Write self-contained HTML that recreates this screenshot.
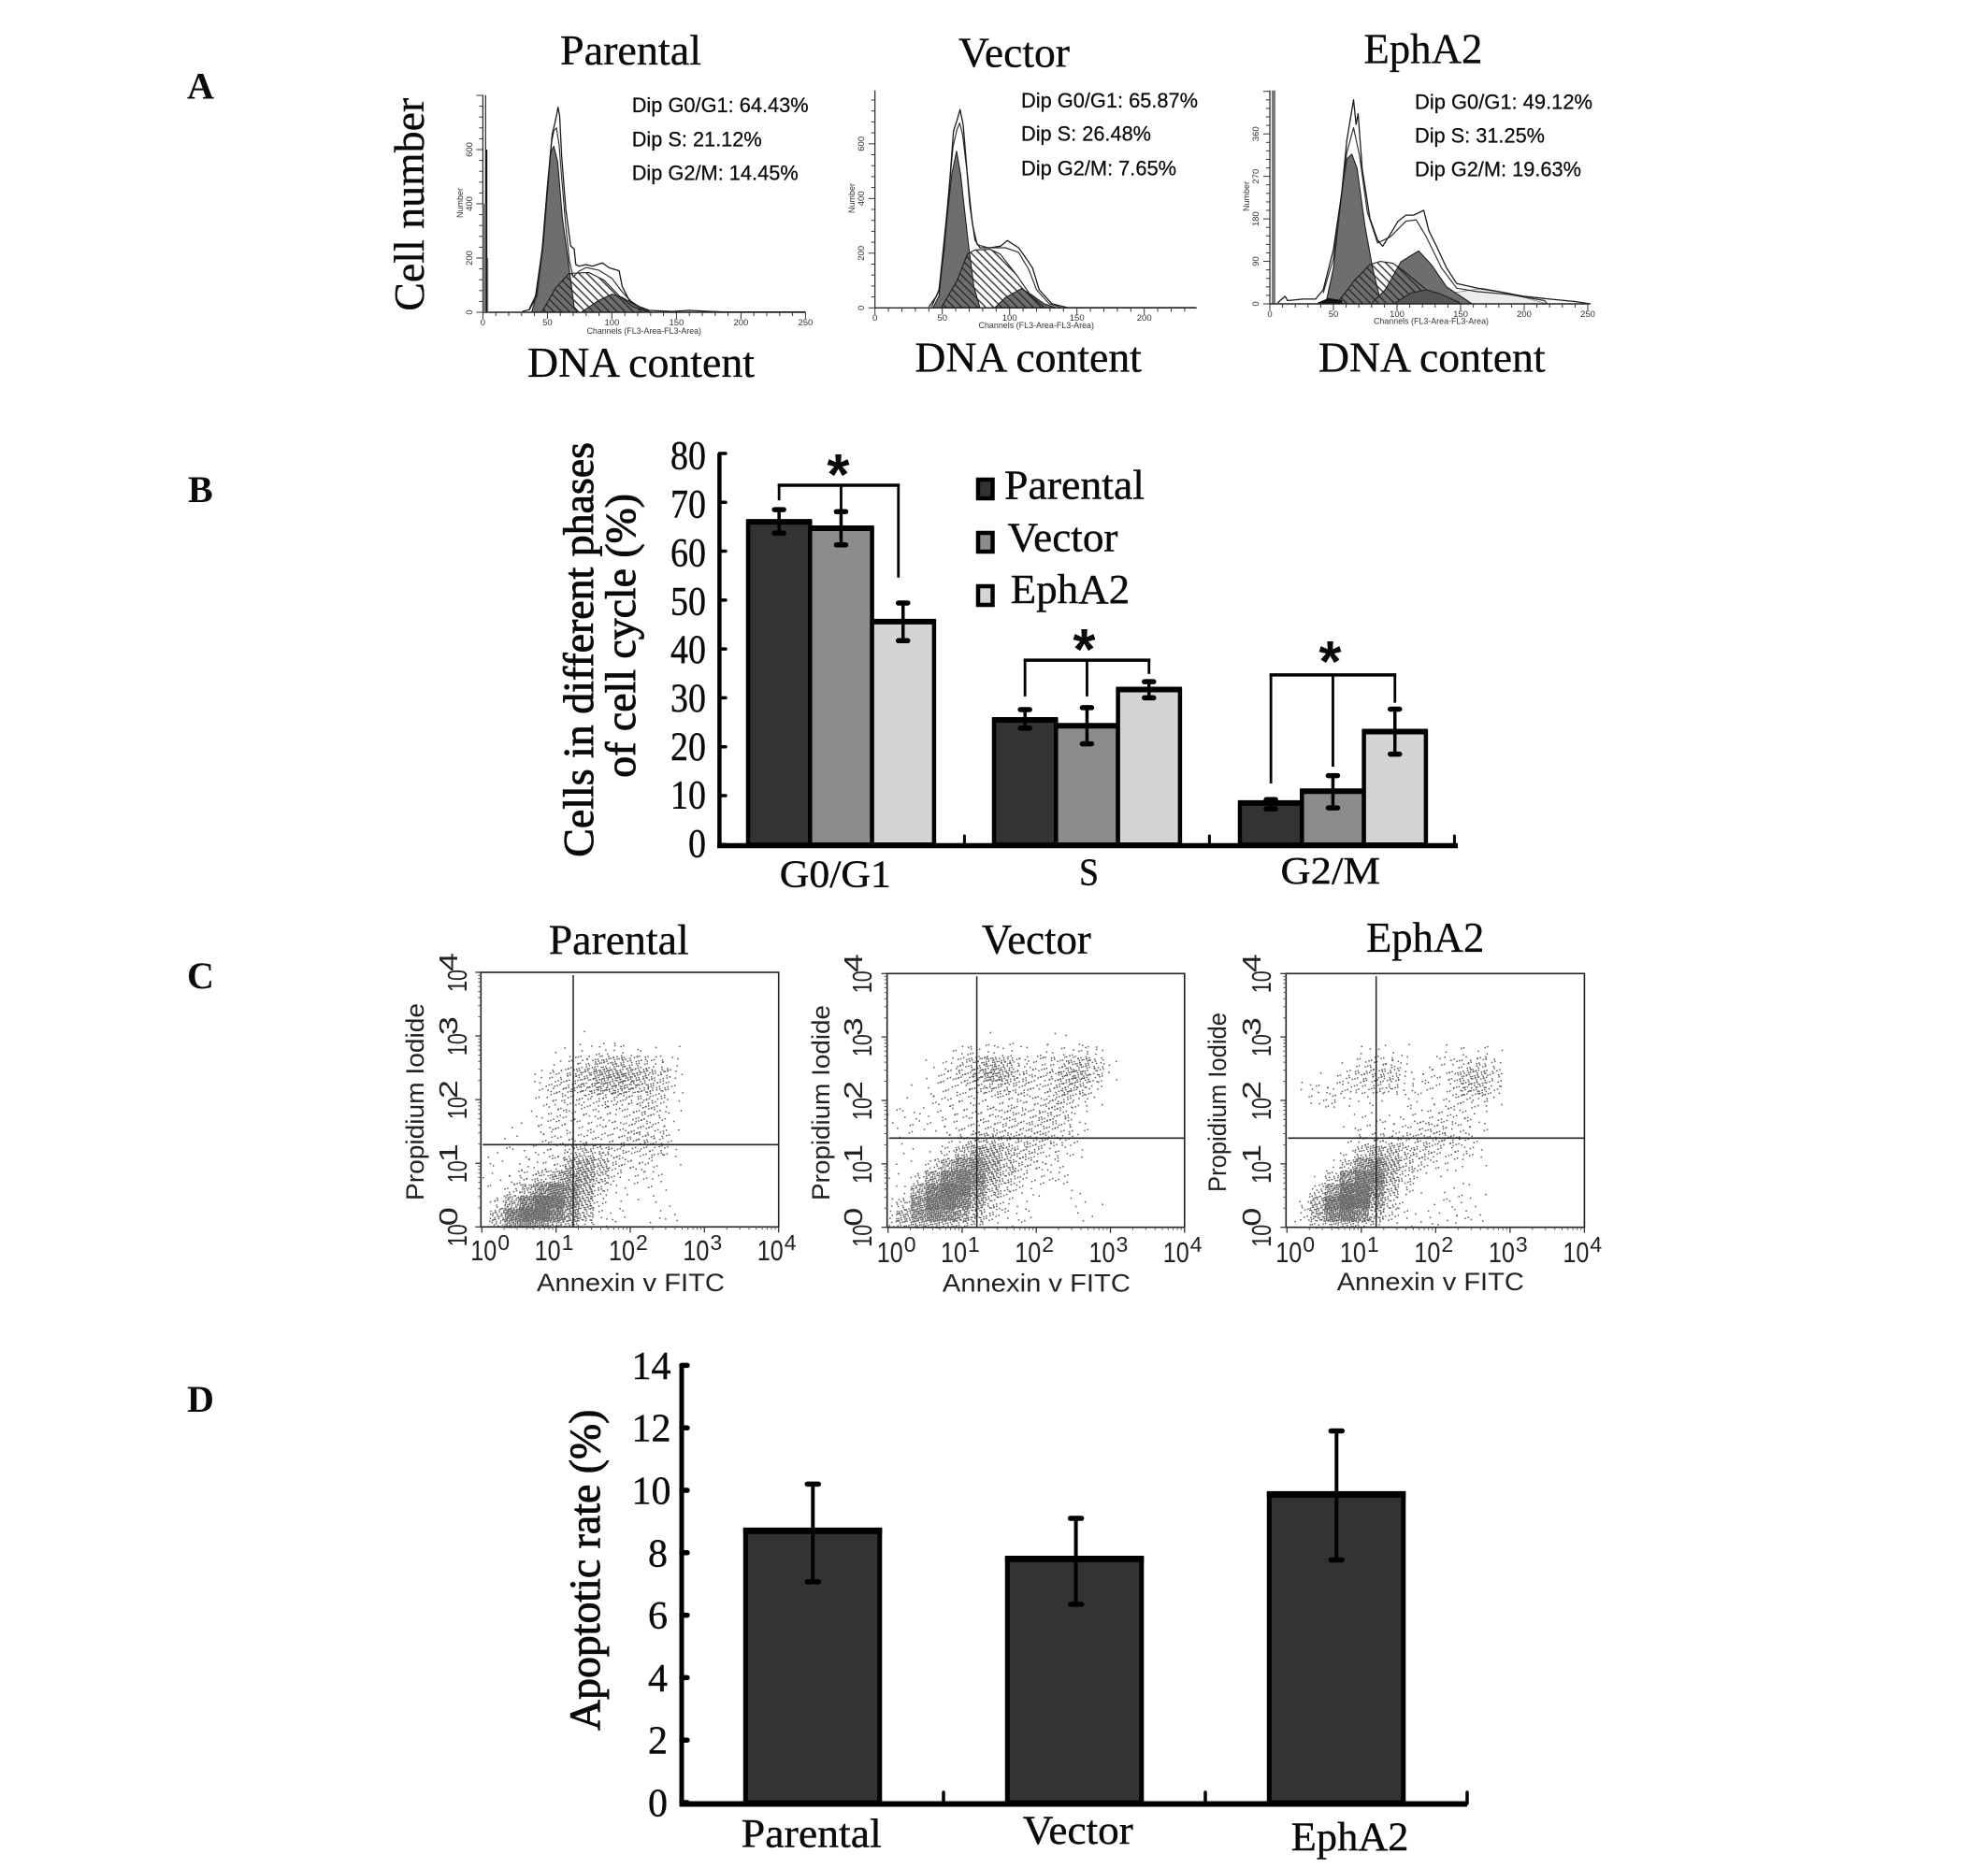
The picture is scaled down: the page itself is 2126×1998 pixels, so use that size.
<!DOCTYPE html>
<html lang="en">
<head>
<meta charset="utf-8">
<title>EphA2 cell cycle and apoptosis figure</title>
<style>
html,body{margin:0;padding:0;background:#fff;}
svg{display:block;}
text{fill:#0a0a0a;}
.serif{font-family:"Liberation Serif",serif;}
.sans{font-family:"Liberation Sans",sans-serif;}
.letter{font-family:"Liberation Serif",serif;font-weight:bold;font-size:40px;}
.title{font-family:"Liberation Serif",serif;font-size:46px;stroke:#0a0a0a;stroke-width:.35px;}
.stat{font-family:"Liberation Sans",sans-serif;font-size:22px;stroke:#0a0a0a;stroke-width:.25px;}
.ax-a{font-family:"Liberation Serif",serif;font-size:45px;stroke:#0a0a0a;stroke-width:.35px;}
.ax-c{font-family:"Liberation Sans",sans-serif;font-size:27px;fill:#222;}
.ax-s{font-family:"Liberation Sans",sans-serif;font-size:9.5px;fill:#333;}
.heavy{stroke:#0a0a0a;stroke-width:.9px;}
.medium{stroke:#0a0a0a;stroke-width:.4px;}
</style>
</head>
<body>
<svg id="figure" xmlns="http://www.w3.org/2000/svg" width="2126" height="1998" viewBox="0 0 2126 1998">
<defs>
<pattern id="s-hatch" width="6" height="6" patternUnits="userSpaceOnUse" patternTransform="rotate(45)">
<line x1="0" y1="3" x2="6" y2="3" stroke="#262626" stroke-width="1.35"/>
</pattern>
</defs>
<rect width="2126" height="1998" fill="#fff"/>

<text class="letter" x="200" y="105.5">A</text>
<text class="letter" x="201" y="537">B</text>
<text class="letter" x="200" y="1057">C</text>
<text class="letter" x="200" y="1510">D</text>

<text class="title" x="599" y="69" textLength="151" lengthAdjust="spacingAndGlyphs">Parental</text>
<text class="title" x="1025" y="71.7" textLength="119" lengthAdjust="spacingAndGlyphs">Vector</text>
<text class="title" x="1458.4" y="67.7" textLength="127" lengthAdjust="spacingAndGlyphs">EphA2</text>
<text class="ax-a" transform="translate(453,332.7) rotate(-90)" textLength="228" lengthAdjust="spacingAndGlyphs">Cell number</text>
<text class="ax-a" x="564" y="403" textLength="243" lengthAdjust="spacingAndGlyphs">DNA content</text>
<text class="ax-a" x="978.4" y="397.7" textLength="242.5" lengthAdjust="spacingAndGlyphs">DNA content</text>
<text class="ax-a" x="1410" y="397.7" textLength="242.6" lengthAdjust="spacingAndGlyphs">DNA content</text>

<text class="stat" x="675.7" y="120" textLength="189" lengthAdjust="spacingAndGlyphs">Dip G0/G1: 64.43%</text>
<text class="stat" x="675.7" y="156.7" textLength="139" lengthAdjust="spacingAndGlyphs">Dip S: 21.12%</text>
<text class="stat" x="675.7" y="192.7" textLength="178" lengthAdjust="spacingAndGlyphs">Dip G2/M: 14.45%</text>
<text class="stat" x="1092" y="115" textLength="189" lengthAdjust="spacingAndGlyphs">Dip G0/G1: 65.87%</text>
<text class="stat" x="1092" y="150.7" textLength="139" lengthAdjust="spacingAndGlyphs">Dip S: 26.48%</text>
<text class="stat" x="1092" y="187.3" textLength="166" lengthAdjust="spacingAndGlyphs">Dip G2/M: 7.65%</text>
<text class="stat" x="1513" y="116.7" textLength="190" lengthAdjust="spacingAndGlyphs">Dip G0/G1: 49.12%</text>
<text class="stat" x="1513" y="152.3" textLength="139" lengthAdjust="spacingAndGlyphs">Dip S: 31.25%</text>
<text class="stat" x="1513" y="188.3" textLength="178" lengthAdjust="spacingAndGlyphs">Dip G2/M: 19.63%</text>

<text class="ax-s" x="627.5" y="357" textLength="122.5" lengthAdjust="spacingAndGlyphs">Channels (FL3-Area-FL3-Area)</text>
<text class="ax-s" x="1046.5" y="351" textLength="123.5" lengthAdjust="spacingAndGlyphs">Channels (FL3-Area-FL3-Area)</text>
<text class="ax-s" x="1469" y="346.7" textLength="123" lengthAdjust="spacingAndGlyphs">Channels (FL3-Area-FL3-Area)</text>
<text class="ax-s" transform="translate(495,233) rotate(-90)" textLength="32" lengthAdjust="spacingAndGlyphs">Number</text>
<text class="ax-s" transform="translate(914,228) rotate(-90)" textLength="32" lengthAdjust="spacingAndGlyphs">Number</text>
<text class="ax-s" transform="translate(1336,226) rotate(-90)" textLength="32" lengthAdjust="spacingAndGlyphs">Number</text>

<text class="serif heavy" font-size="46" transform="translate(634,916.7) rotate(-90)" textLength="443.7" lengthAdjust="spacingAndGlyphs">Cells in different phases</text>
<text class="serif heavy" font-size="46" transform="translate(679,831.7) rotate(-90)" textLength="303.7" lengthAdjust="spacingAndGlyphs">of cell cycle (%)</text>

<text class="title" x="586.7" y="1020.7" textLength="150" lengthAdjust="spacingAndGlyphs">Parental</text>
<text class="title" x="1049.8" y="1020" textLength="117" lengthAdjust="spacingAndGlyphs">Vector</text>
<text class="title" x="1461" y="1018" textLength="126.3" lengthAdjust="spacingAndGlyphs">EphA2</text>
<text class="ax-c" x="574" y="1381" textLength="201" lengthAdjust="spacingAndGlyphs">Annexin v FITC</text>
<text class="ax-c" x="1007.9" y="1381.7" textLength="201" lengthAdjust="spacingAndGlyphs">Annexin v FITC</text>
<text class="ax-c" x="1429.8" y="1380" textLength="200" lengthAdjust="spacingAndGlyphs">Annexin v FITC</text>
<text class="ax-c" transform="translate(453,1284) rotate(-90)" textLength="211" lengthAdjust="spacingAndGlyphs">Propidium Iodide</text>
<text class="ax-c" transform="translate(887,1284) rotate(-90)" textLength="209" lengthAdjust="spacingAndGlyphs">Propidium Iodide</text>
<text class="ax-c" transform="translate(1311,1275) rotate(-90)" textLength="192" lengthAdjust="spacingAndGlyphs">Propidium Iodide</text>

<text class="serif heavy" font-size="47" transform="translate(641,1851) rotate(-90)" textLength="343.4" lengthAdjust="spacingAndGlyphs">Apoptotic rate (%)</text>
</svg>
<script>
/* ---------- Panel A: DNA histograms, [channel, count] ---------- */
const parentalRawTrace=[[30.5,3],[35.7,9],[40.9,61],[46,233],[50,463],[53.8,659],[55.6,693],[57.2,728],[58.2,756],[59.5,725],[61,578],[64.2,383],[68,245],[70.7,233],[72,176],[74.5,170],[79.7,176],[85,170],[92.6,182],[97.8,164],[105.6,153],[108,95],[113.4,44],[121,21],[129,7],[147,3],[160,7],[186,1],[250,1]];
const parentalFitTrace=[[36,8],[42,60],[47,260],[50,440],[53,620],[55,670],[57,680],[59,620],[61,500],[64,330],[67,190],[70,130],[74,150],[80,165],[90,155],[100,125],[108,75],[115,40],[122,15],[130,0]];
const parentalG1Peak=[[38,3],[41,50],[46,233],[50,463],[52.5,590],[55,612],[58,555],[61.6,348],[66.8,164],[70.7,20],[74.5,0]];
const parentalSPhase=[[46,3],[56.4,90],[66.8,143],[82,147],[94,118],[105.6,61],[116,21],[129,0]];
const parentalG2Peak=[[77,3],[90,44],[100,67],[108,55],[116,32],[129,3]];

const vectorRawTrace=[[40,3],[45.7,43],[47.6,66],[51.4,214],[55.2,442],[58.3,647],[61,687],[63.2,725],[65.5,670],[67.4,556],[70.5,374],[74.3,248],[78,220],[85.7,220],[93.3,226],[98.3,246],[106.7,220],[112.4,180],[117,146],[122,66],[131.4,15],[143,1],[238,1]];
const vectorFitTrace=[[42,3],[47.6,66],[53,328],[58,590],[61,653],[62.9,676],[65,636],[68.6,488],[72.4,305],[76,231],[84,220],[97,220],[106.7,203],[114.3,140],[120,66],[129.5,15],[139,0]];
const vectorG1Peak=[[43,0],[47.6,43],[53,305],[57,488],[60.6,573],[63.6,488],[66.7,351],[69.3,237],[73.5,77],[78,0]];
const vectorSPhase=[[49.5,3],[61,100],[68.6,197],[74.3,212],[85.7,214],[93,197],[104.8,123],[116,43],[125.7,3]];
const vectorG2Peak=[[89.5,3],[97,38],[108.6,70],[116,49],[125.7,15],[135,0]];

const epha2RawTrace=[[6,2],[12,16],[14,7],[26,10],[36,10],[42,30],[50,115],[56.5,234],[60.5,346],[65.8,432],[67.8,380],[69.4,403],[72.6,287],[78.7,181],[84.7,135],[88.7,122],[94.8,148],[100.8,175],[107,188],[113,188],[121,198],[125,155],[131,122],[139,76],[147,43],[163.4,33],[179.5,26],[199.7,16],[220,10],[240,5],[252,0]];
const epha2FitTrace=[[42,23],[50,96],[56.5,234],[60.5,320],[65.8,373],[70.6,313],[76.6,195],[84.7,129],[94.8,142],[107,175],[115,178],[123,142],[135,76],[147,33],[163,26],[187.6,20],[216,7],[218,0]];
const epha2G1Peak=[[44,0],[50,76],[56.5,234],[60.5,307],[64.5,317],[68.6,287],[74.6,168],[80.7,76],[86.7,10],[90.8,0]];
const epha2SPhase=[[54.5,7],[66.6,50],[78.7,83],[86.7,90],[96.8,86],[107,66],[123,30],[135,7]];
const epha2G2Peak=[[80.7,3],[90.8,30],[103,89],[117,112],[127,83],[139,36],[159,0]];
const epha2Aggregate=[[143,23],[167,33],[187.6,23],[218,0],[143,0]];
const epha2Tetraploid=[[99,3],[111,23],[123,30],[135,20],[149,3]];
const epha2Debris=[[38,2],[46,11],[56.5,7]];

const parentalChannelTicks=[0,50,100,150,200,250];
const vectorChannelTicks=[0,50,100,150,200];
const epha2ChannelTicks=[0,50,100,150,200,250];
const parentalCountTicks=[0,200,400,600];
const vectorCountTicks=[0,200,400,600];
const epha2CountTicks=[0,90,180,270,360];

/* ---------- Panel B: cell cycle bars ---------- */
const cycleCategories=['G0/G1','S','G2/M'];
const cycleSeries=['Parental','Vector','EphA2'];
const cycleParental=[66,25.5,8.5];
const cycleVector=[64.7,24.3,10.9];
const cycleEpha2=[45.6,31.7,23.1];
const cycleParentalHigh=[68.5,27.6,9.2];
const cycleParentalLow=[63.7,23.8,7.3];
const cycleVectorHigh=[68.1,28,14.1];
const cycleVectorLow=[61.3,20.6,7.5];
const cycleEpha2High=[49.4,33.3,27.7];
const cycleEpha2Low=[41.7,30,18.5];
const cycleTicks=[0,10,20,30,40,50,60,70,80];
const bracketTop=[73.5,37.7,34.7];
const bracketLegParental=[70.4,30.3,12.5];
const bracketLegVector=[68.5,30.3,15.9];
const bracketLegEpha2=[54.6,34.9,29];
const starLevel=[77.1,41.4,38.9];

/* ---------- Panel C: dot counts per 0.2-decade cell, rows bottom-up, columns left-right ---------- */
const scatterExponents=[0,1,2,3,4];
const parentalDensity=[
[3,50,120,110,70,30,20,4,1,1,0,2,2],
[2,15,70,120,130,60,35,5,1,1,0,2,1],
[1,4,14,45,110,70,45,10,1,0,0,1],
[1,2,5,10,30,50,40,15,3,2,1,3],
[1,1,3,4,5,10,45,30,10,5,5,3],
[1,2,2,1,1,6,30,25,10,6,5,4,1],
[0,0,2,2,5,4,4,5,5,8,10,15,4],
[0,0,1,1,3,4,5,4,6,5,8,8,3],
[0,0,0,1,6,8,4,4,5,5,8,10,2],
[0,0,0,0,3,5,3,4,4,3,8,8,2],
[0,0,0,0,8,8,8,15,12,12,12,12,3],
[0,0,0,0,6,14,14,25,35,20,30,15,8],
[0,0,0,0,0,5,8,15,30,25,15,15,5],
[0,0,0,0,0,1,2,3,8,5,1,2,1],
[0,0,0,0,0,0,0,1]];
const vectorDensity=[
[20,30,40,35,25,15,8,3,2,1],
[5,25,80,90,60,35,12,5,3,1,0,0,1,2],
[0,8,70,125,110,60,18,5,3,0,0,0,1,1],
[1,2,20,70,120,80,30,15,6,3,2,2],
[0,0,5,20,65,90,40,18,10,6,5,3],
[0,1,1,4,15,40,45,25,10,8,4,3],
[0,0,0,0,4,12,25,15,14,12,10,4,3],
[1,2,0,2,3,5,8,8,8,10,8,10,5],
[2,4,1,3,3,6,6,8,8,10,10,10,3],
[0,2,2,3,3,4,4,6,8,6,8,10,4],
[0,0,1,3,4,5,5,4,5,4,6,15,12,3],
[0,0,0,3,6,10,20,20,12,8,6,15,22,10],
[0,0,0,3,8,14,25,40,15,6,8,12,25,25,4],
[0,0,0,0,4,8,8,6,3,2,2,4,8,8,2],
[0,0,0,0,0,0,0,2,0,0,2,0,1,1]];
const epha2Density=[
[1,3,25,35,30,10,5,3,1,3,3,3,2],
[0,10,50,130,130,40,12,3,0,0,2,2,2],
[0,2,25,90,130,70,20,4,0,0,1,3,2],
[0,0,6,30,110,100,30,8,2],
[0,0,0,5,35,90,45,12,6,3],
[0,0,0,1,6,35,40,20,10,5,4,5,1],
[0,0,0,0,2,10,10,8,14,10,6,10,3],
[0,0,0,0,3,5,5,3,6,10,10,6,4],
[0,0,0,0,0,1,1,1,3,6,6,4,3],
[0,0,0,1,0,2,1,0,1,2,4,4,4],
[0,3,8,5,2,2,2,1,2,1,1,5,12,4],
[0,0,1,3,10,14,18,8,3,3,6,10,28,16],
[0,0,0,0,5,8,12,6,1,2,3,8,15,12],
[0,0,0,0,0,3,5,2,0,0,1,3,5,4]];

/* ---------- Panel D: apoptosis bars ---------- */
const apoptosisCategories=['Parental','Vector','EphA2'];
const apoptosisValues=[8.7,7.8,9.87];
const apoptosisHigh=[10.2,9.1,11.9];
const apoptosisLow=[7.07,6.35,7.77];
const apoptosisTicks=[0,2,4,6,8,10,12,14];

const NS='http://www.w3.org/2000/svg';
const root=document.getElementById('figure');
function make(tag,attrs,parent){
  const el=document.createElementNS(NS,tag);
  for(const k in attrs){el.setAttribute(k,attrs[k]);}
  (parent||root).appendChild(el);
  return el;
}
function group(name){
  const el=make('g',{});
  
  
  return el;
}
function seg(p,x1,y1,x2,y2,w,c,name,cap){
  const el=make('line',{x1:x1,y1:y1,x2:x2,y2:y2,stroke:c,'stroke-width':w,'stroke-linecap':cap||'butt'},p);
  
  
  return el;
}
function label(p,str,attrs,name){
  const el=make('text',attrs,p);
  el.textContent=str;
  
  
  return el;
}
function shape(p,d,fill,stroke,w,name){
  const el=make('path',{d:d,fill:fill,stroke:stroke,'stroke-width':w,'stroke-linejoin':'round'},p);
  
  
  return el;
}

/* histogram */
function drawHistogram(o){
  const g=group('histogram-'+o.id);
  const X=c=>o.x0+c*o.xs;
  const Y=n=>o.y0-n*o.ys;
  const open=t=>t.map((p,i)=>(i?'L':'M')+X(p[0]).toFixed(1)+' '+Y(p[1]).toFixed(1)).join('');
  const closed=t=>open(t)+'L'+X(t[t.length-1][0]).toFixed(1)+' '+o.y0+'L'+X(t[0][0]).toFixed(1)+' '+o.y0+'Z';
  if(o.aggregate){shape(g,open(o.aggregate)+'Z','#ececec','#888',0.8,'aggregate-region');}
  shape(g,closed(o.g1),'#6e6e6e','#1e1e1e',1.1,'g0-g1-peak');
  shape(g,closed(o.g2),'#6e6e6e','#1e1e1e',1.1,'g2-m-peak');
  shape(g,closed(o.s),'url(#s-hatch)','#1e1e1e',1.1,'s-phase-region');
  if(o.tetra){shape(g,closed(o.tetra),'#555','#1e1e1e',1,'tetraploid-peak');}
  if(o.debris){shape(g,closed(o.debris),'#111','#111',1,'debris-peak');}
  shape(g,open(o.fit),'none','#333',1.2,'fit-trace');
  shape(g,open(o.raw),'none','#1a1a1a',1.3,'raw-trace');
  seg(g,o.x0,o.y0,X(o.xEnd),o.y0,1.4,'#222','x-axis');
  seg(g,o.x0,o.y0,o.x0,o.top,1.2,'#222','y-axis');
  for(let c=0;c<=o.xEnd;c+=10){
    seg(g,X(c),o.y0,X(c),o.y0+(c%50===0?7:4),1,'#333','x-tick');
  }
  o.xTicks.forEach(t=>{
    label(g,t,{class:'ax-s','text-anchor':'middle',x:X(t),y:o.tickY,'font-size':8},'x-tick-label');
  });
  const minor=o.yTicks[1]/5;
  for(let n=0;Y(n)>=o.top;n+=minor){
    seg(g,o.x0,Y(n),o.x0-(Math.round(n/minor)%5===0?7:4),Y(n),1,'#333','y-tick');
  }
  o.yTicks.forEach(t=>{
    label(g,t,{class:'ax-s','text-anchor':'middle',transform:'translate('+o.labelX+','+Y(t)+') rotate(-90)'},'y-tick-label');
  });
  return g;
}
const gp=drawHistogram({id:'parental',x0:516.4,xs:1.38,y0:334,ys:0.29,top:101.7,xEnd:250,tickY:348,labelX:505,
  raw:parentalRawTrace,fit:parentalFitTrace,g1:parentalG1Peak,s:parentalSPhase,g2:parentalG2Peak,
  xTicks:parentalChannelTicks,yTicks:parentalCountTicks});
seg(gp,519.3,101.7,519.3,334,1.2,'#222','channel-zero-spike');
shape(gp,'M516.4 218H519.6V334H516.4Z','#777','none',0,'channel-zero-bar');
seg(gp,520.4,160,520.4,334,1.6,'#111','channel-one-spike');
seg(gp,521.6,276,521.6,334,1.2,'#666','channel-two-spike');
drawHistogram({id:'vector',x0:935.7,xs:1.44,y0:329.3,ys:0.2925,top:96.7,xEnd:239,tickY:343,labelX:924,
  raw:vectorRawTrace,fit:vectorFitTrace,g1:vectorG1Peak,s:vectorSPhase,g2:vectorG2Peak,
  xTicks:vectorChannelTicks,yTicks:vectorCountTicks});
const ge=drawHistogram({id:'epha2',x0:1358,xs:1.36,y0:325,ys:0.505,top:96.7,xEnd:252,tickY:339,labelX:1346,
  raw:epha2RawTrace,fit:epha2FitTrace,g1:epha2G1Peak,s:epha2SPhase,g2:epha2G2Peak,
  aggregate:epha2Aggregate,tetra:epha2Tetraploid,debris:epha2Debris,
  xTicks:epha2ChannelTicks,yTicks:epha2CountTicks});
seg(ge,1361,96.7,1361,325,1.2,'#222','channel-zero-spike');
seg(ge,1363,96.7,1363,325,1.2,'#222','channel-one-spike');

/* panel B */
const cycleY=v=>903.3-v*5.229;
const cycleTickLabelY=v=>916.5-v*5.185;
const cycleX=(c,s)=>800+263*c+66.3*s;
const cycleFill=['#333333','#8c8c8c','#d4d4d4'];
const cycleMeans=[cycleParental,cycleVector,cycleEpha2];
const cycleHighs=[cycleParentalHigh,cycleVectorHigh,cycleEpha2High];
const cycleLows=[cycleParentalLow,cycleVectorLow,cycleEpha2Low];
const gb=group('cycle-bar-chart');
cycleCategories.forEach((cat,c)=>{
  cycleSeries.forEach((ser,s)=>{
    const v=cycleMeans[s][c];
    const x=cycleX(c,s);
    const bar=make('rect',{x:x,y:cycleY(v),width:66.3,height:cycleY(0)-cycleY(v),fill:cycleFill[s],stroke:'#000','stroke-width':4.5},gb);
    
    
    seg(gb,x-2,cycleY(v),x+68.3,cycleY(v),6,'#000','bar-top-edge');
  });
});
cycleCategories.forEach((cat,c)=>{
  cycleSeries.forEach((ser,s)=>{
    const cx=cycleX(c,s)+33.15;
    const hi=cycleY(cycleHighs[s][c]);
    const lo=cycleY(cycleLows[s][c]);
    seg(gb,cx,hi,cx,lo,3.5,'#000','error-bar-stem');
    seg(gb,cx-5,hi,cx+5,hi,5.5,'#000','error-bar-cap-high','round');
    seg(gb,cx-5,lo,cx+5,lo,5.5,'#000','error-bar-cap-low','round');
  });
});
seg(gb,769.4,485,769.4,907,4.5,'#000','cycle-y-axis');
seg(gb,767,904.5,1559,904.5,5.5,'#000','cycle-x-axis');
cycleTicks.forEach(t=>{
  seg(gb,769.4,cycleY(t),776,cycleY(t),3.5,'#000','cycle-y-tick','round');
  const two=String(t).length>1;
  label(gb,t,{class:'serif medium','font-size':43,'text-anchor':'end',x:755,y:cycleTickLabelY(t),textLength:two?38:19,lengthAdjust:'spacingAndGlyphs'},'cycle-y-tick-label');
});
cycleCategories.forEach((cat,c)=>{
  const tx=769.4+262*(c+1);
  seg(gb,tx,904,tx,894,3,'#000','cycle-category-tick','round');
});
const catLabelX=[833.8,1154,1369.5];
const catLabelW=[119,21,106.5];
const catLabelY=[948.3,946.7,945];
cycleCategories.forEach((cat,c)=>{
  label(gb,cat,{class:'serif medium','font-size':41,x:catLabelX[c],y:catLabelY[c],textLength:catLabelW[c],lengthAdjust:'spacingAndGlyphs'},'cycle-category-label');
});
cycleCategories.forEach((cat,c)=>{
  const top=cycleY(bracketTop[c]);
  const a=cycleX(c,0)+33.15, b=cycleX(c,1)+33.15, d=cycleX(c,2)+33.15-(c===0?5:0);
  seg(gb,a-1.5,top,d+1.5,top,3.5,'#000','significance-bracket-top');
  seg(gb,a,top,a,cycleY(bracketLegParental[c]),2.8,'#000','significance-bracket-leg');
  seg(gb,b,top,b,cycleY(bracketLegVector[c]),2.8,'#000','significance-bracket-leg');
  seg(gb,d,top,d,cycleY(bracketLegEpha2[c]),2.8,'#000','significance-bracket-leg');
  label(gb,'*',{class:'sans','font-size':62,'font-weight':'bold','text-anchor':'middle',x:b-3,y:cycleY(starLevel[c])+29},'significance-star');
});
const legendY=[511,568,625];
const legendX=[1074,1077.5,1080.6];
const legendW=[150,118,127.5];
const legendB=[533.3,589.3,645];
cycleSeries.forEach((ser,s)=>{
  const sw=make('rect',{x:1046,y:legendY[s]+2,width:15.5,height:20,fill:cycleFill[s],stroke:'#000','stroke-width':4.5},gb);
  
  
  label(gb,ser,{class:'serif medium','font-size':44,x:legendX[s],y:legendB[s],textLength:legendW[s],lengthAdjust:'spacingAndGlyphs'},'legend-entry-'+ser);
});

/* panel C: each cell's dots are stippled with a fixed low-discrepancy lattice, spread half a cell past its edges */
function drawScatter(o){
  const g=group('scatter-'+o.id);
  const X=d=>o.left+1+d*(o.right-o.left-1)/4;
  const Y=d=>o.bottom-d*(o.bottom-o.top)/4;
  const cw=(X(1)-X(0))/5, ch=(Y(0)-Y(1))/5;
  o.density.forEach((row,r)=>{
    row.forEach((count,c)=>{
      if(!count){return;}
      let d='';
      const seed=(r*7+c*13)*0.37;
      const n=Math.round(count*1.7);
      for(let k=0;k<n;k++){
        const u=((seed+0.5+k*0.7548776662)%1)*2-0.5;
        const v=((seed*1.7+0.5+k*0.5698402910)%1)*2-0.5;
        const px=X(0)+(c+u)*cw;
        const py=Y(0)-(r+v)*ch;
        if(px<o.left||py>o.bottom){continue;}
        d+='M'+px.toFixed(1)+' '+py.toFixed(1)+'h1.5v1.5h-1.5z';
      }
      shape(g,d,count>=60?'#6c6c6c':'#5a5a5a','none',0,'scatter-density-cell');
    });
  });
  const box=make('rect',{x:o.left,y:o.top,width:o.right-o.left,height:o.bottom-o.top,fill:'none',stroke:'#222','stroke-width':1.6},g);
  
  
  seg(g,o.gateX,o.top+3,o.gateX,o.bottom,1.5,'#222','vertical-quadrant-gate');
  seg(g,o.left+2,o.gateY,o.right,o.gateY,1.7,'#222','horizontal-quadrant-gate');
  scatterExponents.forEach(e=>{
    seg(g,X(e),o.bottom,X(e),o.bottom+6,1.3,'#333','scatter-x-tick');
    seg(g,o.left,Y(e),o.left-6,Y(e),1.3,'#333','scatter-y-tick');
    if(e<4){
      for(let m=2;m<10;m++){
        const d=e+Math.log10(m);
        seg(g,X(d),o.bottom,X(d),o.bottom+3,1,'#555','scatter-x-minor-tick');
        seg(g,o.left,Y(d),o.left-3,Y(d),1,'#555','scatter-y-minor-tick');
      }
    }
    const sx=X(e)+(e===0?-12:-23);
    label(g,'10',{class:'sans','font-size':31,x:sx,y:o.xLabelY,textLength:28,lengthAdjust:'spacingAndGlyphs',style:'fill:#222'},'scatter-x-tick-label');
    label(g,e,{class:'sans','font-size':23,x:sx+29,y:o.xLabelY-11,style:'fill:#222'},'scatter-x-tick-exponent');
    label(g,'10',{class:'sans','font-size':29,transform:'translate('+o.yBase+','+(Y(e)+21)+') rotate(-90)',textLength:24,lengthAdjust:'spacingAndGlyphs',style:'fill:#222'},'scatter-y-tick-label');
    label(g,e,{class:'sans','font-size':28,transform:'translate('+o.ySup+','+(Y(e)-1)+') rotate(-90)',textLength:20,lengthAdjust:'spacingAndGlyphs',style:'fill:#222'},'scatter-y-tick-exponent');
  });
}
drawScatter({id:'parental',left:514.3,right:832.7,top:1040,bottom:1312.3,gateX:613,gateY:1224.3,xLabelY:1348,yBase:499,ySup:489,density:parentalDensity});
drawScatter({id:'vector',left:948.7,right:1266.8,top:1041.3,bottom:1312.7,gateX:1044.6,gateY:1217.3,xLabelY:1350,yBase:932,ySup:921.8,density:vectorDensity});
drawScatter({id:'epha2',left:1375.3,right:1694.4,top:1041.3,bottom:1312.7,gateX:1471.7,gateY:1217.3,xLabelY:1350,yBase:1359,ySup:1348,density:epha2Density});

/* panel D */
const apoY=v=>1928-v*33.4;
const apoX=c=>797.3+280*c;
const gd=group('apoptosis-bar-chart');
apoptosisCategories.forEach((cat,c)=>{
  const x=apoX(c);
  const v=apoptosisValues[c];
  const bar=make('rect',{x:x,y:apoY(v),width:143.5,height:apoY(0)-apoY(v),fill:'#333333',stroke:'#000','stroke-width':5},gd);
  
  
  seg(gd,x-2.5,apoY(v),x+146,apoY(v),7,'#000','bar-top-edge');
});
const errCenterShift=[0,1.3,0];
apoptosisCategories.forEach((cat,c)=>{
  const cx=apoX(c)+72+errCenterShift[c];
  const hi=apoY(apoptosisHigh[c]);
  const lo=apoY(apoptosisLow[c]);
  seg(gd,cx,hi,cx,lo,4,'#000','error-bar-stem');
  seg(gd,cx-6,hi,cx+6,hi,5.5,'#000','error-bar-cap-high','round');
  seg(gd,cx-6,lo,cx+6,lo,5.5,'#000','error-bar-cap-low','round');
});
seg(gd,729,1460.6,729,1932,5,'#000','apoptosis-y-axis');
seg(gd,726.5,1929.5,1569,1929.5,6,'#000','apoptosis-x-axis');
apoptosisTicks.forEach(t=>{
  seg(gd,729,apoY(t),735,apoY(t),5.5,'#000','apoptosis-y-tick','round');
  const two=String(t).length>1;
  label(gd,t,{class:'serif medium','font-size':42,'text-anchor':'end',x:two?717.5:714,y:apoY(t)+14.5},'apoptosis-y-tick-label');
});
apoptosisCategories.forEach((cat,c)=>{
  const tx=729+280*(c+1);
  seg(gd,tx,1929,tx,1917,3.5,'#000','apoptosis-category-tick','round');
});
const apoLabelX=[792.8,1093.8,1380.8];
const apoLabelW=[150,118,125.7];
const apoLabelY=[1975.6,1972,1979];
apoptosisCategories.forEach((cat,c)=>{
  label(gd,cat,{class:'serif medium','font-size':43,x:apoLabelX[c],y:apoLabelY[c],textLength:apoLabelW[c],lengthAdjust:'spacingAndGlyphs'},'apoptosis-category-label');
});
</script>
</body>
</html>
